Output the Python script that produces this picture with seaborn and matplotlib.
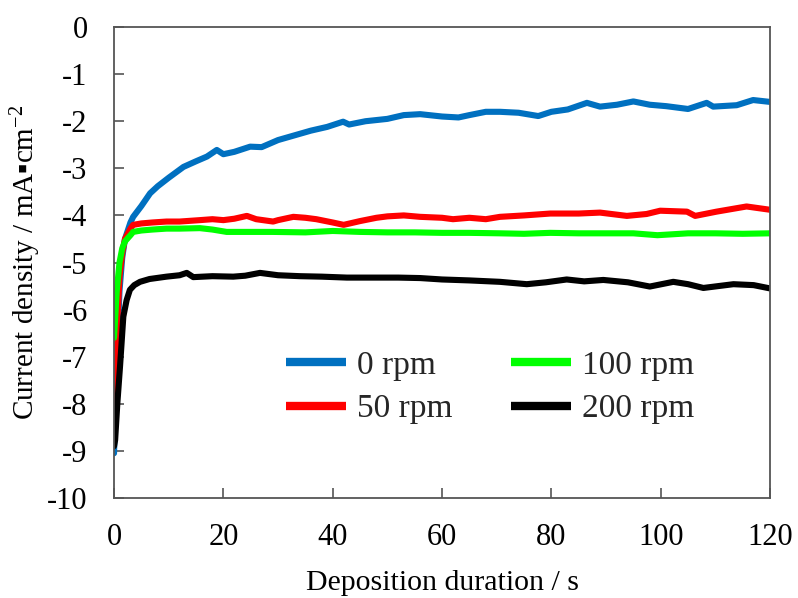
import numpy as np
import pandas as pd
import matplotlib
matplotlib.use("Agg")
import matplotlib.pyplot as plt
import seaborn as sns
from matplotlib.lines import Line2D

# ---- data ----
t_0rpm = [0, 0.5, 1, 1.5, 2, 3, 3.5, 5, 6.6, 8, 10, 12.7, 15, 17, 18.8, 20, 22, 24.9, 27, 30,
          33, 36, 39, 41.9, 43, 46, 50, 53, 56, 60, 63, 65, 68, 70.6, 74, 77.6, 80, 83, 86.5,
          88.9, 92, 95, 98, 101, 105, 108.4, 109.6, 113.9, 116.9, 120]
j_0rpm = [-9.05, -7.0, -5.6, -4.9, -4.5, -4.15, -4.03, -3.8, -3.53, -3.38, -3.2, -2.97, -2.85,
          -2.75, -2.61, -2.7, -2.65, -2.54, -2.55, -2.4, -2.3, -2.2, -2.12, -2.01, -2.07, -2.0,
          -1.95, -1.87, -1.85, -1.9, -1.92, -1.87, -1.8, -1.8, -1.82, -1.89, -1.8, -1.75, -1.61,
          -1.69, -1.65, -1.58, -1.65, -1.68, -1.74, -1.61, -1.69, -1.66, -1.55, -1.59]

t_50rpm = [0, 0.5, 1, 1.5, 2, 3, 3.5, 5, 7, 9.6, 12, 15.7, 18, 20, 22, 24.3, 26, 29.1, 30, 32.8,
           35, 37, 40, 42, 45, 48, 50, 53, 56, 60, 62, 65, 68, 70.6, 75, 79.8, 85, 88.9, 93.8,
           97.4, 99.9, 104.8, 106.3, 110.2, 115.7, 120]
j_50rpm = [-8.0, -6.5, -5.3, -4.8, -4.5, -4.28, -4.2, -4.17, -4.15, -4.13, -4.13, -4.1, -4.08,
           -4.1, -4.07, -4.01, -4.08, -4.13, -4.1, -4.03, -4.05, -4.08, -4.15, -4.2, -4.12,
           -4.05, -4.02, -4.0, -4.03, -4.05, -4.08, -4.05, -4.08, -4.03, -4.0, -3.96, -3.96,
           -3.94, -4.01, -3.97, -3.9, -3.92, -4.01, -3.92, -3.81, -3.88]

t_100rpm = [0, 0.5, 1, 1.5, 2, 3, 3.5, 5, 7, 9.6, 12, 15.7, 18, 20.6, 25, 29, 35, 40, 45, 50,
            55, 60, 65, 70.6, 75, 79.8, 85, 90, 95, 99.4, 105, 110, 115, 120]
j_100rpm = [-6.6, -5.6, -5.0, -4.7, -4.55, -4.42, -4.35, -4.32, -4.3, -4.28, -4.28, -4.27, -4.3,
            -4.35, -4.35, -4.35, -4.36, -4.33, -4.35, -4.36, -4.36, -4.37, -4.37, -4.38, -4.39,
            -4.37, -4.38, -4.38, -4.38, -4.42, -4.38, -4.38, -4.39, -4.38]

t_200rpm = [0, 0.2, 0.6, 1.1, 1.7, 2.3, 2.9, 3.7, 4.75, 6.5, 9.6, 12, 13.3, 14.5, 18, 21.8, 24,
            26.7, 30, 34, 38, 42.6, 48, 52, 56, 60, 65, 70.6, 75.5, 79, 82.8, 86, 89.5, 94, 98,
            102.3, 105, 107.8, 113.3, 117, 120]
j_200rpm = [-8.9, -8.77, -8.0, -7.2, -6.15, -5.8, -5.58, -5.48, -5.41, -5.35, -5.3, -5.27, -5.22,
            -5.31, -5.29, -5.3, -5.28, -5.22, -5.27, -5.29, -5.3, -5.32, -5.32, -5.32, -5.33,
            -5.36, -5.38, -5.41, -5.46, -5.42, -5.36, -5.4, -5.37, -5.42, -5.51, -5.41, -5.46,
            -5.54, -5.46, -5.48, -5.55]

labels = ["0 rpm", "50 rpm", "100 rpm", "200 rpm"]
colors = ["#0070C0", "#FF0000", "#00FF00", "#000000"]
x_ticks = [0, 20, 40, 60, 80, 100, 120]
y_ticks = [0, -1, -2, -3, -4, -5, -6, -7, -8, -9, -10]

frames = []
for lab, t, j in zip(labels, [t_0rpm, t_50rpm, t_100rpm, t_200rpm],
                     [j_0rpm, j_50rpm, j_100rpm, j_200rpm]):
    frames.append(pd.DataFrame({"t": t, "j": j, "speed": lab}))
df = pd.concat(frames, ignore_index=True)

sns.set_style("ticks")
plt.rcParams["font.family"] = ["Liberation Serif", "DejaVu Serif"]
plt.rcParams["mathtext.default"] = "regular"
plt.rcParams["axes.unicode_minus"] = False

fig = plt.figure(figsize=(7.98, 5.98), dpi=100)
ax = fig.add_axes([0.1429, 0.1672, 0.8221, 0.7876])

sns.lineplot(data=df, x="t", y="j", hue="speed", hue_order=labels,
             palette=dict(zip(labels, colors)), sort=False, estimator=None,
             linewidth=4.4, ax=ax, legend=False)

ax.set_xlim(0, 120)
ax.set_ylim(-10, 0)
ax.set_xticks(x_ticks)
ax.set_yticks(y_ticks)
ax.set_xticklabels([str(v) for v in x_ticks])
ax.set_yticklabels([str(v) for v in y_ticks])
ax.tick_params(direction="in", length=7, width=1.2, colors="#555555",
               labelsize=22, labelcolor="black")
ax.tick_params(axis="x", pad=18)
ax.tick_params(axis="y", pad=19)
for s in ax.spines.values():
    s.set_visible(True)
    s.set_color("#555555")
    s.set_linewidth(1.3)

ax.set_xlabel("Deposition duration / s", fontsize=21.5, labelpad=13, color="black")
ax.set_ylabel("Current density / mA\u25aacm$^{-2}$", fontsize=21, labelpad=3, color="black")

handles = [Line2D([0], [0], color=c, lw=6, solid_capstyle="butt") for c in colors]
ax.legend(handles, labels, ncol=2, frameon=False, fontsize=24,
          handlelength=1.8, handletextpad=0.33, columnspacing=1.75,
          labelspacing=0.4, loc="upper left", bbox_to_anchor=(0.262, 0.314),
          borderpad=0, borderaxespad=0)

fig.savefig("out.png", dpi=100)
